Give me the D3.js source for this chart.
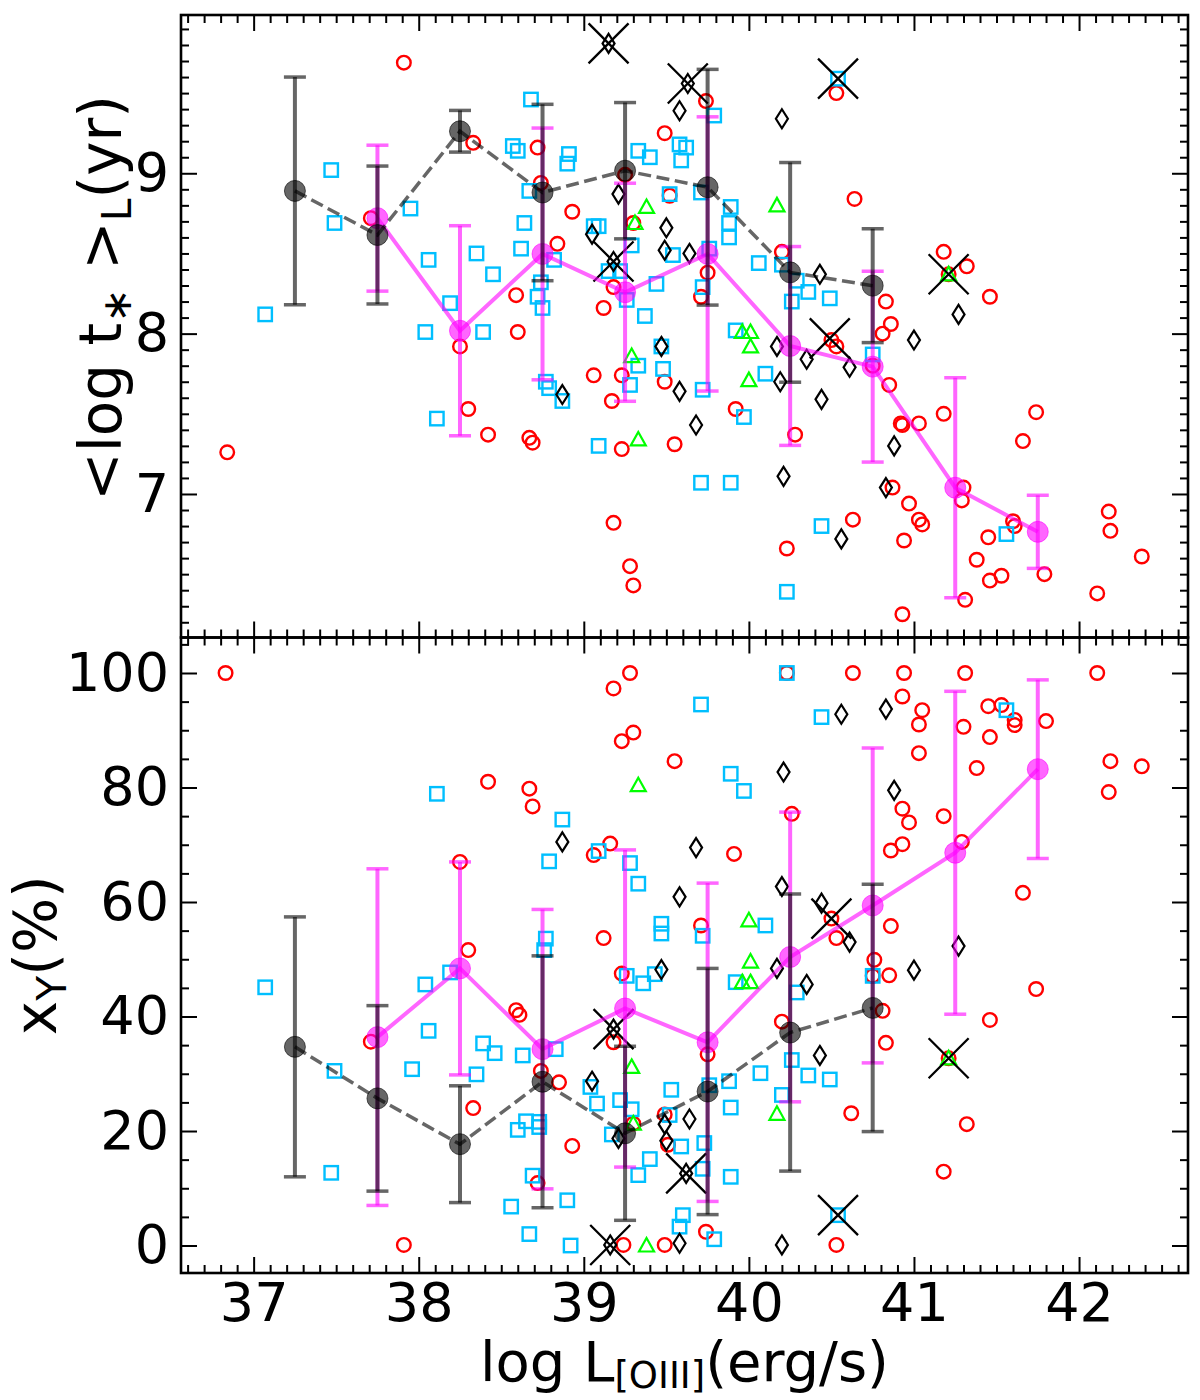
<!DOCTYPE html>
<html>
<head>
<meta charset="utf-8">
<script src="https://cdn.jsdelivr.net/npm/d3@7"></script>
<style>
  body { margin: 0; background: #fff; }
  text { font-family: "DejaVu Sans", sans-serif; }
</style>
</head>
<body>
<script>
var width = 1200,
    height = 1400;

// bin centres of the running means
var binsBlack = [37.25, 37.75, 38.25, 38.75, 39.25, 39.75, 40.25, 40.75];
var binsMag = [37.75, 38.25, 38.75, 39.25, 39.75, 40.25, 40.75, 41.25, 41.75];

// top panel: <log t*>_L means
var topBlackMean = [8.89, 8.615, 9.262, 8.88, 9.016, 8.913, 8.382, 8.299];
var topBlackErr = [0.71, 0.43, 0.13, 0.55, 0.425, 0.735, 0.685, 0.355];
var topMagMean = [8.72, 8.018, 8.497, 8.258, 8.497, 7.923, 7.794, 7.039, 6.764];
var topMagErr = [0.455, 0.655, 0.785, 0.68, 0.855, 0.62, 0.595, 0.686, 0.228];

// bottom panel: x_Y means
var botBlackMean = [34.7, 25.7, 17.7, 28.6, 19.6, 26.9, 37.2, 41.5];
var botBlackErr = [22.7, 16.2, 10.2, 22, 15.2, 21.5, 24.2, 21.6];
var botMagMean = [36.4, 48.4, 34.3, 41.4, 35.5, 50.4, 59.4, 68.6, 83.2];
var botMagErr = [29.4, 18.6, 24.4, 27.7, 27.8, 25.3, 27.5, 28.2, 15.6];

// top panel samples [log L, log t]
var redTop = [[37.91, 9.69], [38.33, 9.19], [37.71, 8.72], [38.59, 8.24], [38.60, 8.01], [38.25, 7.92], [38.30, 7.53], [38.42, 7.37], [36.84, 7.26],
  [39.74, 9.45], [40.53, 9.50], [39.49, 9.25], [38.72, 9.16], [38.74, 8.94], [39.25, 8.99], [39.52, 8.86], [40.64, 8.84], [38.93, 8.76],
  [39.30, 8.69], [38.84, 8.56], [40.20, 8.51], [39.75, 8.38], [39.18, 8.29], [39.71, 8.23], [39.12, 8.16], [40.50, 7.96], [40.53, 7.92],
  [39.06, 7.74], [39.23, 7.74], [39.49, 7.70], [39.17, 7.58], [38.67, 7.35], [38.69, 7.32], [39.23, 7.28], [39.55, 7.31], [39.92, 7.53],
  [40.28, 7.37], [39.18, 6.82], [39.28, 6.55], [39.30, 6.43], [40.23, 6.66], [40.63, 6.84],
  [41.18, 8.51], [41.21, 8.37], [41.32, 8.42], [41.46, 8.23], [40.83, 8.20], [40.86, 8.06],
  [40.81, 8.00], [40.75, 7.80], [40.85, 7.68], [40.92, 7.44], [40.93, 7.43], [41.03, 7.44], [41.18, 7.50], [41.74, 7.51], [41.66, 7.33],
  [40.87, 7.04], [40.97, 6.94], [41.03, 6.84], [41.05, 6.81], [40.94, 6.71], [41.30, 7.04], [41.29, 6.96], [41.45, 6.73], [41.38, 6.59],
  [41.46, 6.46], [41.53, 6.49], [41.60, 6.83], [41.61, 6.80], [41.79, 6.50], [41.31, 6.34], [40.93, 6.25], [42.18, 6.89], [42.19, 6.77],
  [42.38, 6.61], [42.11, 6.38]];
var blueTop = [[37.47, 9.02], [37.49, 8.69], [37.95, 8.78], [37.07, 8.12], [38.06, 8.46], [38.19, 8.19], [38.35, 8.50], [38.45, 8.37],
  [38.57, 9.17], [38.60, 9.14], [38.04, 8.01], [38.39, 8.01], [38.11, 7.47],
  [38.68, 9.46], [38.91, 9.12], [38.90, 9.06], [39.33, 9.14], [39.40, 9.10], [39.58, 9.18], [39.62, 9.16], [39.59, 9.08], [39.79, 9.36],
  [39.52, 8.87], [38.67, 8.89], [39.71, 8.88], [38.64, 8.69], [38.62, 8.53], [39.89, 8.79], [39.88, 8.69], [39.88, 8.60], [39.06, 8.67],
  [39.09, 8.67], [39.29, 8.55], [38.82, 8.46], [39.54, 8.49], [39.76, 8.53], [40.06, 8.44], [40.20, 8.43], [39.15, 8.39], [39.22, 8.39],
  [38.74, 8.32], [38.72, 8.23], [38.75, 8.16], [39.44, 8.31], [39.26, 8.21], [39.72, 8.29], [39.37, 8.11], [40.29, 8.33], [40.36, 8.26],
  [40.26, 8.20], [40.49, 8.22], [40.54, 9.59],
  [39.92, 8.02], [38.77, 7.70], [38.79, 7.66], [38.87, 7.58], [39.33, 7.80], [39.28, 7.68], [39.47, 7.92], [39.48, 7.78], [39.72, 7.65],
  [39.97, 7.48], [40.10, 7.75], [39.09, 7.30], [39.71, 7.07], [39.89, 7.07], [40.44, 6.80], [40.23, 6.39], [40.75, 7.87], [41.56, 6.75]];
var greenTop = [[39.38, 8.79], [39.31, 8.69], [40.17, 8.80], [39.96, 8.01], [40.01, 8.01], [40.01, 7.92], [40.00, 7.71], [39.29, 7.86],
  [39.33, 7.34], [41.21, 8.37]];
var diamondTop = [[39.15, 9.81], [39.63, 9.56], [39.18, 8.45], [39.58, 9.39], [40.20, 9.34], [39.21, 8.87], [39.05, 8.62], [39.50, 8.66],
  [39.49, 8.52], [39.64, 8.50], [40.43, 8.37], [39.47, 7.92], [38.87, 7.62], [39.58, 7.64], [39.68, 7.43], [40.17, 7.92], [40.35, 7.84],
  [40.19, 7.70], [40.44, 7.59], [40.21, 7.11], [40.56, 6.72], [40.61, 7.79], [41.27, 8.12], [41.00, 7.96], [40.88, 7.30], [40.83, 7.04]];
var crossTop = [[39.15, 9.81], [39.63, 9.56], [40.54, 9.59], [39.18, 8.45], [40.49, 7.97], [41.21, 8.37]];

// bottom panel samples [log L, x_Y]
var redBot = [[36.83, 100], [39.18, 97.3], [39.28, 100], [39.30, 89.6], [39.23, 88.1], [39.55, 84.6], [38.42, 81.0], [38.67, 79.8],
  [38.69, 76.7], [39.16, 70.2], [39.06, 68.2], [38.25, 67.0], [39.12, 53.7], [38.30, 51.6],
  [40.23, 100], [40.63, 100], [40.94, 100], [41.31, 100], [42.11, 100], [40.93, 95.9], [41.05, 93.5], [41.03, 91.0], [41.45, 94.2],
  [41.53, 94.4], [41.61, 91.8], [41.61, 90.9], [41.30, 90.6], [41.46, 88.8], [41.80, 91.6], [41.03, 86.0], [41.38, 83.4], [42.19, 84.6],
  [42.38, 83.7], [42.18, 79.2], [40.26, 75.4], [40.93, 76.3], [40.97, 73.9], [41.18, 75.0], [41.29, 70.5], [40.93, 70.1], [40.86, 69.0],
  [39.91, 68.4], [41.66, 61.6], [40.50, 57.1], [40.86, 55.8], [40.53, 53.7], [39.71, 55.9],
  [37.71, 35.6], [37.91, 0.1], [38.33, 24.0], [38.59, 41.1], [38.61, 40.3], [38.74, 30.5], [38.85, 28.5], [38.93, 17.4], [38.72, 10.9],
  [39.24, 0.1], [39.49, 0.1], [39.18, 35.5], [39.23, 47.5], [39.30, 21.3], [39.49, 22.9], [39.51, 17.6],
  [40.76, 49.9], [40.75, 47.1], [40.85, 47.2], [41.74, 44.8], [41.46, 39.4], [40.81, 41.0], [40.83, 35.4], [41.21, 32.7], [40.62, 23.1],
  [41.32, 21.2], [41.18, 12.9], [40.53, 0.1], [40.20, 39.1], [39.75, 33.4], [39.74, 2.4]];
var blueBot = [[38.11, 78.9], [38.87, 74.4], [39.09, 68.9], [38.79, 67.1], [39.28, 66.8], [39.33, 63.2], [39.47, 56.2], [39.47, 54.5],
  [38.77, 53.6], [38.76, 51.6],
  [40.23, 100], [39.71, 94.5], [40.44, 92.3], [41.56, 93.5], [39.89, 82.4], [39.97, 79.4], [39.72, 54.1], [40.10, 55.9],
  [37.07, 45.1], [37.49, 30.5], [37.47, 12.7], [38.04, 45.6], [38.19, 47.7], [38.06, 37.5], [37.96, 30.8], [38.39, 35.3], [38.46, 33.6],
  [38.35, 29.9], [38.63, 33.2], [38.83, 34.3], [38.65, 21.7], [38.60, 20.2], [38.73, 21.6], [38.73, 20.7], [38.69, 12.2], [38.56, 6.8],
  [38.90, 7.9], [38.67, 2.0], [38.92, 0.0], [39.26, 47.1], [39.36, 45.8], [39.43, 47.4], [39.04, 27.7], [39.08, 24.8], [39.22, 25.4],
  [39.29, 23.8], [39.53, 27.2], [39.52, 22.8], [39.17, 19.4], [39.59, 17.3], [39.40, 15.1], [39.33, 12.3], [39.60, 5.3], [39.58, 3.3],
  [39.92, 46.0], [40.29, 44.2], [40.75, 47.1], [40.26, 32.4], [40.36, 29.7], [40.49, 29.0], [40.07, 30.1], [39.88, 28.7], [39.76, 28.0],
  [39.89, 24.1], [40.20, 26.3], [39.73, 17.9], [39.72, 13.4], [39.89, 12.0], [39.79, 1.1], [40.54, 5.3]];
var greenBot = [[39.33, 80.4], [40.00, 56.8], [40.01, 49.6], [39.96, 46.0], [40.01, 46.0], [39.29, 31.2], [39.30, 21.3], [39.38, 0.0],
  [40.17, 23.0], [41.21, 32.7]];
var diamondBot = [[38.87, 70.5], [39.58, 60.9], [40.56, 92.8], [40.83, 93.7], [40.21, 82.7], [40.88, 79.5], [39.68, 69.5], [40.20, 62.7],
  [40.44, 59.8], [40.61, 53.0], [41.27, 52.3], [39.47, 48.2], [39.16, 0.1], [39.58, 0.4], [39.18, 37.8], [39.05, 28.7], [39.49, 21.2],
  [39.64, 22.1], [39.21, 18.7], [39.50, 18.3], [39.62, 12.6], [40.17, 48.4], [40.35, 45.6], [41.00, 48.1], [40.43, 33.2], [40.20, 0.1]];
var crossBot = [[39.16, 0.1], [39.18, 37.8], [39.62, 12.6], [40.50, 57.1], [40.54, 5.3], [41.21, 32.7]];

// tick values
var xMajor = [37, 38, 39, 40, 41, 42];
var xMinor = d3.range(366, 427).filter(function(i) { return i % 10; }).map(function(i) { return i / 10; });
var yTopMajor = [7, 8, 9];
var yTopMinor = d3.range(62, 100).filter(function(i) { return i % 10; }).map(function(i) { return i / 10; });
var yBotMajor = [0, 20, 40, 60, 80, 100];
var yBotMinor = d3.range(0, 106, 5).filter(function(v) { return v % 20; });

var svg = d3.select("body").append("svg")
    .attr("width", width)
    .attr("height", height);

var x = d3.scaleLinear().domain([36.56, 42.66]).range([181, 1188]);
var yTop = d3.scaleLinear().domain([6.105, 9.987]).range([637.5, 15]);
var yBot = d3.scaleLinear().domain([-4.8, 106.2]).range([1273, 637.5]);

var shapes = {
  triangle: "M0,-7.5L7.5,6L-7.5,6Z",
  diamond: "M0,-9.5L6,0L0,9.5L-6,0Z",
  cross: "M-20,-20L20,20M-20,20L20,-20"
};

function scatter(g, pts, y, kind, color) {
  var sel = g.append('g').selectAll('.pt').data(pts).enter();
  if (kind === 'circle') {
    sel.append('circle')
      .attr('cx', function(d) { return x(d[0]); })
      .attr('cy', function(d) { return y(d[1]); })
      .attr('r', 6.8)
      .attr('fill', 'none').attr('stroke', color).attr('stroke-width', 2.4);
  } else if (kind === 'square') {
    sel.append('rect')
      .attr('x', function(d) { return x(d[0]) - 6.7; })
      .attr('y', function(d) { return y(d[1]) - 6.7; })
      .attr('width', 13.4).attr('height', 13.4)
      .attr('fill', 'none').attr('stroke', color).attr('stroke-width', 2.4);
  } else {
    sel.append('path')
      .attr('transform', function(d) { return 'translate(' + x(d[0]) + ',' + y(d[1]) + ')'; })
      .attr('d', shapes[kind])
      .attr('fill', 'none').attr('stroke', color)
      .attr('stroke-width', kind === 'cross' ? 2.3 : 2.2);
  }
}

function means(g, bins, vals, errs, y, color, dashed) {
  var pts = bins.map(function(b, i) { return [b, vals[i], errs[i]]; });
  var grp = g.append('g');

  // error bars
  var eb = grp.selectAll('.eb').data(pts).enter().append('g');
  eb.append('line')
    .attr('x1', function(d) { return x(d[0]); }).attr('x2', function(d) { return x(d[0]); })
    .attr('y1', function(d) { return y(d[1] - d[2]); }).attr('y2', function(d) { return y(d[1] + d[2]); })
    .attr('stroke', color).attr('stroke-opacity', 0.6).attr('stroke-width', 4);
  [-1, 1].forEach(function(s) {
    eb.append('line')
      .attr('x1', function(d) { return x(d[0]) - 11; }).attr('x2', function(d) { return x(d[0]) + 11; })
      .attr('y1', function(d) { return y(d[1] + s * d[2]); }).attr('y2', function(d) { return y(d[1] + s * d[2]); })
      .attr('stroke', color).attr('stroke-opacity', 0.6).attr('stroke-width', 3.5);
  });

  // connecting line
  var line = d3.line().x(function(d) { return x(d[0]); }).y(function(d) { return y(d[1]); });
  grp.append('path')
    .attr('d', line(pts))
    .attr('fill', 'none').attr('stroke', color).attr('stroke-opacity', 0.6)
    .attr('stroke-width', dashed ? 3.5 : 4)
    .attr('stroke-dasharray', dashed ? '13,5.6' : null);

  grp.selectAll('.m').data(pts).enter().append('circle')
    .attr('cx', function(d) { return x(d[0]); })
    .attr('cy', function(d) { return y(d[1]); })
    .attr('r', 10.5)
    .attr('fill', color).attr('fill-opacity', 0.6)
    .attr('stroke', color).attr('stroke-opacity', 0.6).attr('stroke-width', 1);
}

function frame(g, y, yMajor, yMinor, xLabels) {
  var y0 = y.range()[0], y1 = y.range()[1];
  var x0 = x.range()[0], x1 = x.range()[1];

  function clean(a) {
    a.select('.domain').remove();
    a.selectAll('.tick line').attr('stroke', '#000').attr('stroke-width', 2);
  }

  // x ticks, pointing inward on both edges
  g.append('g').attr('transform', 'translate(0,' + y0 + ')')
    .call(d3.axisBottom(x).tickValues(xMajor).tickSize(-16).tickPadding(10)
      .tickFormat(xLabels ? d3.format('d') : ''))
    .call(clean)
    .selectAll('text').attr('font-size', 54).attr('fill', '#000');
  g.append('g').attr('transform', 'translate(0,' + y0 + ')')
    .call(d3.axisBottom(x).tickValues(xMinor).tickSize(-8).tickFormat(''))
    .call(clean);
  g.append('g').attr('transform', 'translate(0,' + y1 + ')')
    .call(d3.axisTop(x).tickValues(xMajor).tickSize(-16).tickFormat(''))
    .call(clean);
  g.append('g').attr('transform', 'translate(0,' + y1 + ')')
    .call(d3.axisTop(x).tickValues(xMinor).tickSize(-8).tickFormat(''))
    .call(clean);

  // y ticks, left with labels and right without
  g.append('g').attr('transform', 'translate(' + x0 + ',0)')
    .call(d3.axisLeft(y).tickValues(yMajor).tickSize(-16).tickPadding(12).tickFormat(d3.format('d')))
    .call(clean)
    .selectAll('text').attr('font-size', 54).attr('fill', '#000');
  g.append('g').attr('transform', 'translate(' + x0 + ',0)')
    .call(d3.axisLeft(y).tickValues(yMinor).tickSize(-8).tickFormat(''))
    .call(clean);
  g.append('g').attr('transform', 'translate(' + x1 + ',0)')
    .call(d3.axisRight(y).tickValues(yMajor).tickSize(-16).tickFormat(''))
    .call(clean);
  g.append('g').attr('transform', 'translate(' + x1 + ',0)')
    .call(d3.axisRight(y).tickValues(yMinor).tickSize(-8).tickFormat(''))
    .call(clean);

  g.append('rect')
    .attr('x', x0).attr('y', y1)
    .attr('width', x1 - x0).attr('height', y0 - y1)
    .attr('fill', 'none').attr('stroke', '#000').attr('stroke-width', 2.6);
}

function panel(y, red, blue, green, diam, cross, bm, be, mm, me, yMajor, yMinor, xLabels) {
  var g = svg.append('g');
  scatter(g, red, y, 'circle', '#ff0000');
  scatter(g, blue, y, 'square', '#00bfff');
  scatter(g, green, y, 'triangle', '#00ff00');
  scatter(g, diam, y, 'diamond', '#000');
  scatter(g, cross, y, 'cross', '#000');
  means(g, binsMag, mm, me, y, '#ff00ff', false);
  means(g, binsBlack, bm, be, y, '#000', true);
  frame(g, y, yMajor, yMinor, xLabels);
}

panel(yTop, redTop, blueTop, greenTop, diamondTop, crossTop,
  topBlackMean, topBlackErr, topMagMean, topMagErr, yTopMajor, yTopMinor, false);
panel(yBot, redBot, blueBot, greenBot, diamondBot, crossBot,
  botBlackMean, botBlackErr, botMagMean, botMagErr, yBotMajor, yBotMinor, true);

// axis labels
var xl = svg.append('text')
  .attr('x', (x.range()[0] + x.range()[1]) / 2).attr('y', 1381)
  .attr('text-anchor', 'middle').attr('font-size', 56);
xl.append('tspan').text('log L');
xl.append('tspan').attr('font-size', 37).attr('dy', 7).text('[OIII]');
xl.append('tspan').attr('dy', -7).text('(erg/s)');

var yl1 = svg.append('text')
  .attr('transform', 'translate(121,298) rotate(-90)')
  .attr('text-anchor', 'middle').attr('font-size', 58);
yl1.append('tspan').text('<log t');
yl1.append('tspan').attr('font-size', 41).attr('dy', 10).text('\u2217');
yl1.append('tspan').attr('dy', -10).text(' >');
yl1.append('tspan').attr('font-size', 41).attr('dy', 10).text('L');
yl1.append('tspan').attr('dy', -10).text('(yr)');

var yl2 = svg.append('text')
  .attr('transform', 'translate(56,' + (yBot.range()[0] + yBot.range()[1]) / 2 + ') rotate(-90)')
  .attr('text-anchor', 'middle').attr('font-size', 58);
yl2.append('tspan').text('x');
yl2.append('tspan').attr('font-size', 41).attr('dy', 10).text('Y');
yl2.append('tspan').attr('dy', -10).text('(%)');
</script>
</body>
</html>
